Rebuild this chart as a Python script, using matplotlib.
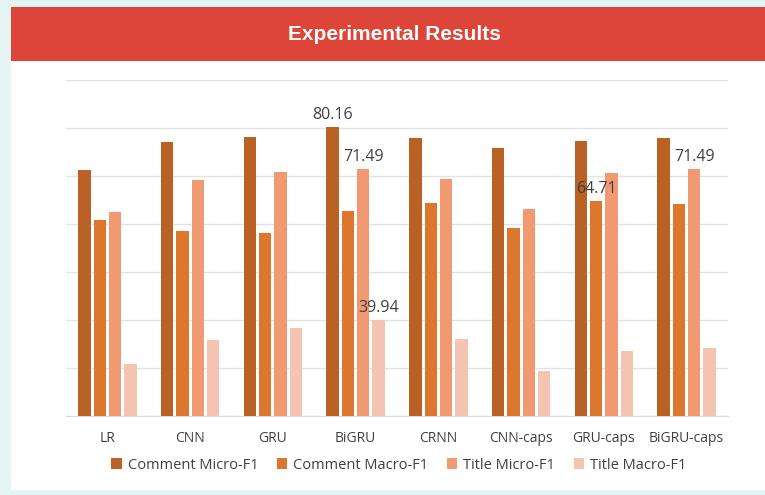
import numpy as np
import matplotlib.pyplot as plt
from matplotlib.patches import Rectangle

models = ["LR", "CNN", "GRU", "BiGRU", "CRNN", "CNN-caps", "GRU-caps", "BiGRU-caps"]
series_names = ["Comment Micro-F1", "Comment Macro-F1", "Title Micro-F1", "Title Macro-F1"]

comment_micro = [71.2, 77.1, 78.2, 80.16, 77.9, 75.8, 77.3, 77.9]
comment_macro = [60.8, 58.5, 58.1, 62.8, 64.4, 59.2, 64.71, 64.2]
title_micro = [62.5, 69.2, 70.8, 71.49, 69.4, 63.1, 70.6, 71.49]
title_macro = [30.8, 35.8, 38.3, 39.94, 36.0, 29.4, 33.5, 34.2]

# which bars carry a value label: (series index, model index)
labelled = [(0, 3), (2, 3), (3, 3), (1, 6), (2, 7)]

colors = ["#BA6125", "#DE772E", "#F19A72", "#F5C3B1"]
plt.rcParams['font.family'] = ['Open Sans', 'DejaVu Sans']

fig = plt.figure(figsize=(7.65, 4.95), dpi=100)
fig.patch.set_facecolor("#E5F5F4")
# white card and red banner
fig.patches.append(Rectangle((11/765, 1-490/495), 1, (490-7)/495, transform=fig.transFigure,
                             facecolor="white", edgecolor="none", zorder=-2))
fig.patches.append(Rectangle((11/765, 1-61/495), 1, (61-7)/495, transform=fig.transFigure,
                             facecolor="#DC4538", edgecolor="none", zorder=-1))
fig.text(394/765, 1-35/495, "Experimental Results", color="white", fontsize=15,
         fontweight="bold", ha="center", va="center", family=['Liberation Sans', 'DejaVu Sans'])

ax = fig.add_axes([66/765, 1-416/495, (728-66)/765, (416-80)/495])
ax.set_facecolor("none")

data = [comment_micro, comment_macro, title_micro, title_macro]
x = np.arange(len(models))
step = 0.185
for i, vals in enumerate(data):
    ax.bar(x + (i - 1.5) * step, vals, width=0.15, color=colors[i],
           label=series_names[i], zorder=3)

for s, m in labelled:
    v = data[s][m]
    ax.annotate(f"{v:.2f}", (x[m] + (s - 1.5) * step, v), xytext=(0, 3),
                textcoords="offset points", ha="center", va="bottom",
                fontsize=11.5, color="#404040", zorder=5)

ax.set_ylim(20, 90)
ax.set_xlim(-0.5, 7.5)
ax.set_yticks(np.arange(20, 91, 10))
ax.set_yticklabels([])
ax.grid(axis="y", color="#E2E2E2", linewidth=1, zorder=0)
ax.set_xticks(x)
ax.set_xticklabels(models, fontsize=10, color="#404040")
ax.tick_params(length=0, pad=11)
for sp in ["top", "right", "left"]:
    ax.spines[sp].set_visible(False)
ax.spines["bottom"].set_color("#D9D9D9")

fig.legend(loc="center", bbox_to_anchor=(399/765, 1-465/495), ncol=4, frameon=False,
           fontsize=10.5, handlelength=0.7, handleheight=0.7, handletextpad=0.4,
           columnspacing=1.3, labelcolor="#404040")

fig.savefig("out.png", dpi=100)
